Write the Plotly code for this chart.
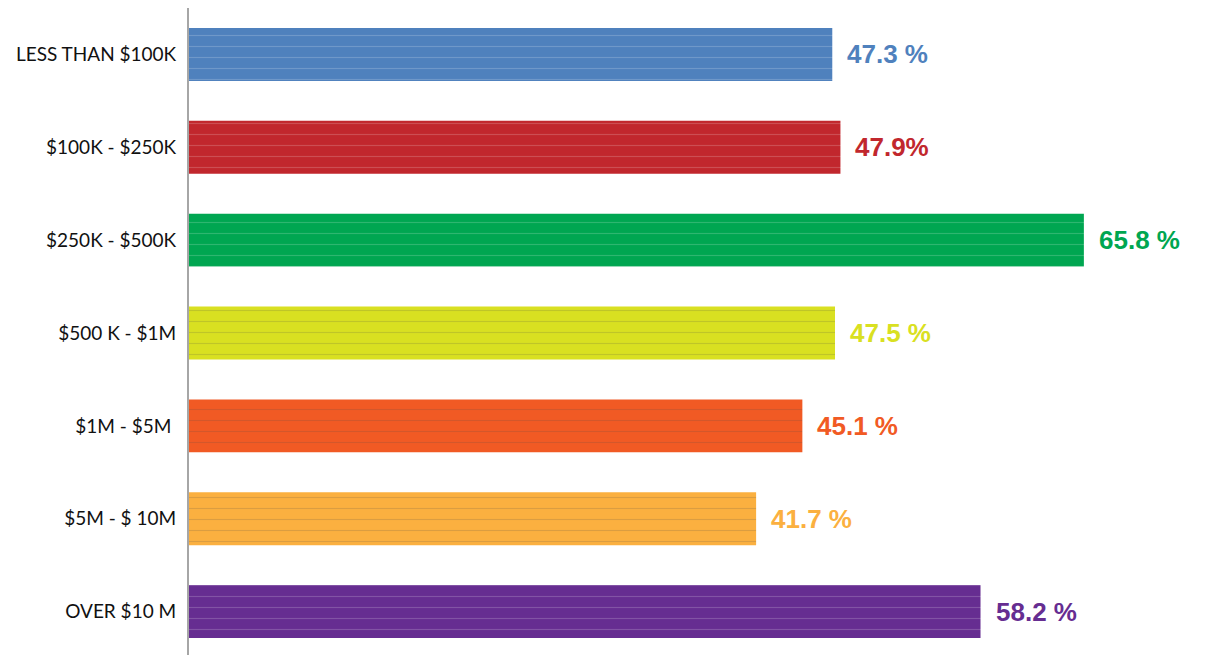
import plotly.graph_objects as go

categories = ["LESS THAN $100K", "$100K - $250K", "$250K - $500K", "$500 K - $1M",
              "$1M - $5M\u00a0", "$5M - $ 10M", "OVER $10 M"]
values = [47.3, 47.9, 65.8, 47.5, 45.1, 41.7, 58.2]
value_labels = ["47.3 %", "47.9%", "65.8 %", "47.5 %", "45.1 %", "41.7 %", "58.2 %"]
colors = ["#4F81BD", "#C1272D", "#00A651", "#D9E021", "#F15A24", "#FBB040", "#662D91"]

fig = go.Figure()
fig.add_trace(go.Bar(
    y=categories, x=values, orientation="h",
    marker=dict(color=colors, line=dict(width=0),
                pattern=dict(shape="-", fgcolor="white", fgopacity=0.18, size=11, solidity=0.1)),
    width=0.57, hoverinfo="skip",
))

for c, v, t, col in zip(categories, values, value_labels, colors):
    fig.add_annotation(x=v, y=c, text=f"<b>{t}</b>", showarrow=False, xanchor="left",
                       xshift=13, font=dict(family="Liberation Sans, Arial", size=26, color=col))

fig.update_layout(
    width=1199, height=655,
    margin=dict(l=181, r=0, t=0, b=5, autoexpand=False),
    plot_bgcolor="white", paper_bgcolor="white",
    showlegend=False,
    xaxis=dict(range=[0, 1018 / 13.6], showgrid=False, zeroline=False, showticklabels=False,
               showline=False, fixedrange=True),
    yaxis=dict(categoryorder="array", categoryarray=categories, autorange="reversed",
               showgrid=False, zeroline=False, showline=True, linecolor="#A6A6A6", linewidth=2,
               ticks="", ticklabelstandoff=7, automargin=False,
               tickfont=dict(family="Lato, Open Sans", size=19, color="#111111")),
)

fig.write_html("out.html")
